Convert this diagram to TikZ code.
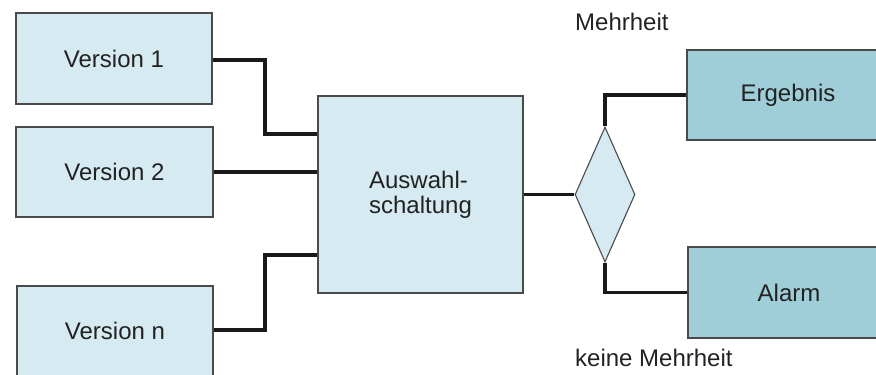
\documentclass[tikz,border=0pt]{standalone}
\usepackage{fontspec}
\setmainfont{Liberation Sans}
\usetikzlibrary{shapes.geometric}
\definecolor{lightbox}{HTML}{D6EBF1}
\definecolor{darkbox}{HTML}{9FCDD8}
\definecolor{edge}{HTML}{4A4A4A}
\definecolor{txt}{HTML}{222222}
\begin{document}
\begin{tikzpicture}[x=1pt,y=-1pt,
  every node/.style={font=\fontsize{24}{25}\selectfont, text=txt},
  lbox/.style={draw=edge, line width=1.1pt, fill=lightbox, inner sep=0pt},
  dbox/.style={draw=edge, line width=1.1pt, fill=darkbox, inner sep=0pt},
  conn/.style={draw=black!90, line width=3.4pt, line cap=butt, line join=miter},
  lbl/.style={anchor=west, inner sep=0pt}]
\useasboundingbox (0,0) rectangle (876,375);
\clip (0,0) rectangle (876,375);
\node[lbox, minimum width=196pt, minimum height=91pt] (v1) at (114,58.5) {Version 1};
\node[lbox, minimum width=197pt, minimum height=90pt] (v2) at (114.5,172) {Version 2};
\node[lbox, minimum width=196pt, minimum height=94pt] (vn) at (115,333) {\raisebox{4pt}{Version n}};
\node[lbox, minimum width=205pt, minimum height=197pt, align=left] (aus) at (420.5,194.5) {Auswahl-\\schaltung};
\node[lbox, diamond, minimum width=60pt, minimum height=135pt, inner sep=0pt] (dia) at (605,194.5) {};
\node[dbox, minimum width=202pt, minimum height=90pt] (erg) at (788,95) {Ergebnis};
\node[dbox, minimum width=202pt, minimum height=91pt] (alarm) at (789,292.5) {Alarm};
\node[lbl] (mehr) at (575,22) {Mehrheit};
\node[lbl] (keine) at (575,358) {keine Mehrheit};
\draw[conn] ([yshift=-1.5pt]v1.east) -- (265,60) |- ([yshift=60.5pt]aus.west);
\draw[conn] (v2.east) -- (aus.west |- v2.east);
\draw[conn] ([yshift=3pt]vn.east) -- (265,330) |- ([yshift=-60.5pt]aus.west);
\draw[conn] (aus.east) -- (dia.west);
\draw[conn] (dia.north) |- (erg.west);
\draw[conn] (dia.south) |- (alarm.west);
\end{tikzpicture}
\end{document}
